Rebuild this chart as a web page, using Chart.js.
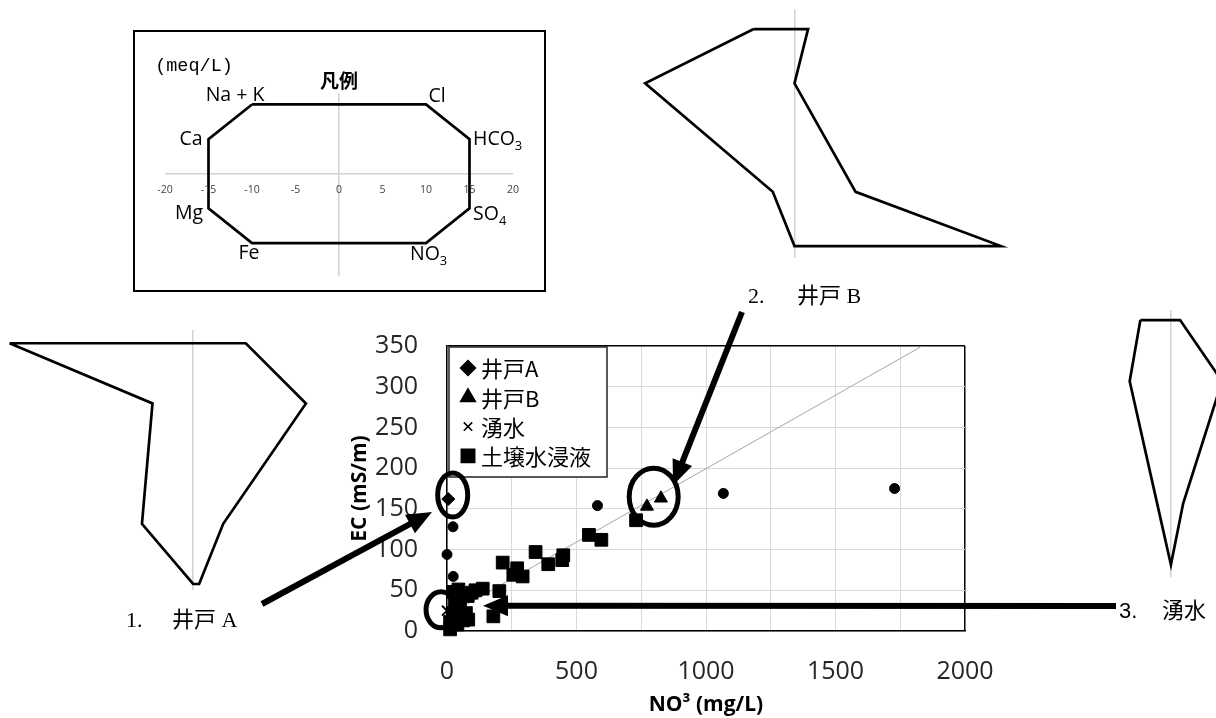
<!DOCTYPE html>
<html>
<head>
<meta charset="utf-8">
<script src="https://cdn.jsdelivr.net/npm/chart.js@4.4.1/dist/chart.umd.min.js"></script>
<style>
html,body{margin:0;padding:0;background:#fff;width:1216px;height:718px;overflow:hidden;position:relative;}
canvas{position:absolute;}
.t{position:absolute;white-space:nowrap;line-height:1;color:#000;}
.c{transform:translate(-50%,-50%);}
.l{transform:translate(0,-50%);}
.ion{font-family:"Open Sans",sans-serif;font-size:19.5px;}
.ion sub{font-size:13px;vertical-align:-5px;line-height:0;}
.lab{font-family:"Liberation Serif","Noto Sans CJK JP",serif;font-size:22px;}
.lab2{font-family:"Liberation Sans","Noto Sans CJK JP",sans-serif;font-size:22px;}
#legendBox{position:absolute;left:133px;top:30px;width:409px;height:258px;border:2px solid #000;background:#fff;}
</style>
</head>
<body>
<div id="legendBox"></div>
<canvas id="main" width="1216" height="718" style="left:0;top:0"></canvas>
<canvas id="stiffLegend"></canvas>
<canvas id="stiffA"></canvas>
<canvas id="stiffB"></canvas>
<canvas id="stiffSpring"></canvas>

<div class="t c" style="left:194px;top:67px;font-family:'Liberation Mono',monospace;font-size:18.5px;">(meq/L)</div>
<div class="t c" style="left:339px;top:79px;font-family:'Noto Sans CJK JP',sans-serif;font-size:19px;font-weight:bold;">凡例</div>
<div class="t c ion" style="left:235px;top:94px;">Na + K</div>
<div class="t c ion" style="left:437px;top:95px;">Cl</div>
<div class="t c ion" style="left:191px;top:138px;">Ca</div>
<div class="t l ion" style="left:473px;top:138px;">HCO<sub>3</sub></div>
<div class="t c ion" style="left:189px;top:212px;">Mg</div>
<div class="t l ion" style="left:473px;top:213px;">SO<sub>4</sub></div>
<div class="t c ion" style="left:249px;top:252px;">Fe</div>
<div class="t l ion" style="left:410px;top:253px;">NO<sub>3</sub></div>

<div class="t l lab" style="left:126px;top:620px;">1.</div>
<div class="t l lab" style="left:172px;top:620px;">井戸 A</div>
<div class="t l lab" style="left:748px;top:296px;">2.</div>
<div class="t l lab" style="left:797px;top:296px;">井戸 B</div>
<div class="t l lab2" style="left:1119px;top:611px;">3.</div>
<div class="t l lab2" style="left:1162px;top:611px;">湧水</div>

<script>
// ---------------- Scatter data: NO3 (mg/L) vs EC (mS/m) ----------------
const wellA_NO3 = [5];
const wellA_EC  = [162];
const wellB_NO3 = [772, 826];
const wellB_EC  = [153, 163];
const spring_NO3 = [0];
const spring_EC  = [25];
const soil_NO3 = [730, 548, 596, 342, 449, 445, 391, 215, 271, 256, 292, 202, 179, 138, 95, 44, 82, 24, 31, 50, 24, 12, 63, 12, 73, 80, 110, 40];
const soil_EC  = [136, 118, 112, 97, 93, 87, 82, 84, 77, 69, 67, 49, 18, 52, 47, 51, 14, 48, 38, 30, 22, 11, 13, 2, 22, 43, 50, 8];
const other_NO3 = [23, 0, 24, 581, 1067, 1728];
const other_EC  = [128, 94, 67, 154, 169, 175];
const trend_NO3 = [0, 1835];
const trend_EC  = [19, 350];

const xTicksMax = 2000, yTicksMax = 350;

// ---------------- Stiff (hexa) diagram data, meq/L ----------------
// rows: Na+K / Cl, Ca / HCO3, Mg / SO4, Fe / NO3
const stiffRows = [2, 1, -1, -2];
const legendCations = [10, 15, 15, 10];
const legendAnions  = [10, 15, 15, 10];
const wellACations  = [12.2, 2.7, 3.4, 0];
const wellAAnions   = [3.5, 7.5, 2.0, 0.4];
const wellBCations  = [3.0, 11.0, 1.6, 0];
const wellBAnions   = [1.0, 0, 4.5, 15.2];
const springCations = [2.0, 2.7, 0.9, 0];
const springAnions  = [0.6, 3.35, 0.8, 0];
const legendTicks = [-20, -15, -10, -5, 0, 5, 10, 15, 20];

// ---------------- helpers ----------------
const zip = (xs, ys) => xs.map((x, i) => ({x: x, y: ys[i]}));

function polygon(cat, an) {
  const pts = [{x: -cat[0], y: stiffRows[0]}];
  for (let i = 0; i < 4; i++) pts.push({x: an[i], y: stiffRows[i]});
  for (let i = 3; i >= 0; i--) pts.push({x: -cat[i], y: stiffRows[i]});
  return pts;
}

function fallbackDrawPoint(ctx, o, x, y) {
  const r = o.radius;
  ctx.beginPath();
  if (o.pointStyle === 'rectRot') { ctx.moveTo(x, y - r); ctx.lineTo(x + r, y); ctx.lineTo(x, y + r); ctx.lineTo(x - r, y); ctx.closePath(); }
  else if (o.pointStyle === 'triangle') { ctx.moveTo(x, y - r); ctx.lineTo(x + r * 0.866, y + r / 2); ctx.lineTo(x - r * 0.866, y + r / 2); ctx.closePath(); }
  else if (o.pointStyle === 'rect') { const s = r * Math.SQRT1_2; ctx.rect(x - s, y - s, 2 * s, 2 * s); }
  else if (o.pointStyle === 'crossRot') { const s = r * Math.SQRT1_2; ctx.moveTo(x - s, y - s); ctx.lineTo(x + s, y + s); ctx.moveTo(x + s, y - s); ctx.lineTo(x - s, y + s); }
  else { ctx.arc(x, y, r, 0, Math.PI * 2); }
  if (o.pointStyle !== 'crossRot') ctx.fill();
  ctx.stroke();
}
const drawPoint = (Chart.helpers && Chart.helpers.drawPoint) ? Chart.helpers.drawPoint : fallbackDrawPoint;

// ---------------- Main scatter chart ----------------
const black = {backgroundColor: '#000', borderColor: '#000', borderWidth: 1, clip: false};

const ellipses = [
  {x: 22, y: 167, rx: 15, ry: 22},
  {x: 798, y: 165, rx: 24.5, ry: 28.5},
  {x: -23, y: 26, rx: 15, ry: 18}
];
const arrows = [
  {tailX: 262, tailY: 604, tipX: -58, tipY: 146},
  {tailX: 742, tailY: 312, tipX: 873, tipY: 179},
  {tailX: 1116, tailY: 606, tipX: 139, tipY: 31}
];

function drawArrow(ctx, x1, y1, x2, y2) {
  const dx = x2 - x1, dy = y2 - y1, len = Math.hypot(dx, dy);
  const ux = dx / len, uy = dy / len, px = -uy, py = ux;
  const hl = 25, hw = 10.5;
  ctx.lineWidth = 6; ctx.lineCap = 'butt';
  ctx.beginPath(); ctx.moveTo(x1, y1); ctx.lineTo(x2 - ux * hl * 0.8, y2 - uy * hl * 0.8); ctx.stroke();
  ctx.beginPath();
  ctx.moveTo(x2, y2);
  ctx.lineTo(x2 - ux * hl + px * hw, y2 - uy * hl + py * hw);
  ctx.lineTo(x2 - ux * hl - px * hw, y2 - uy * hl - py * hw);
  ctx.closePath(); ctx.fill();
}

const boxLegendPlugin = {
  id: 'boxLegend',
  afterDatasetsDraw(chart) {
    const {ctx, chartArea: a} = chart;
    const x0 = a.left + 2, y0 = a.top + 1, w = 158, h = 130;
    ctx.save();
    ctx.fillStyle = '#fff'; ctx.fillRect(x0, y0, w, h);
    ctx.strokeStyle = '#222'; ctx.lineWidth = 1.5; ctx.strokeRect(x0, y0, w, h);
    const items = chart.data.datasets.filter(d => d.inLegend);
    items.forEach((d, i) => {
      const cy = y0 + 21 + i * 29.3;
      ctx.fillStyle = '#000'; ctx.strokeStyle = '#000';
      drawPoint(ctx, {pointStyle: d.pointStyle, radius: d.legendRadius, rotation: 0, borderWidth: d.pointStyle === 'crossRot' ? 2 : 1}, x0 + 19, cy);
      ctx.fillStyle = '#000';
      ctx.font = '22px "Noto Sans CJK JP", sans-serif';
      ctx.textBaseline = 'middle'; ctx.textAlign = 'left';
      ctx.fillText(d.label, x0 + 32, cy + 1);
    });
    ctx.restore();
  },
  afterDraw(chart) {
    const {ctx, scales: {x, y}} = chart;
    ctx.save();
    ctx.strokeStyle = '#000'; ctx.fillStyle = '#000';
    ellipses.forEach(e => {
      ctx.lineWidth = 5;
      ctx.beginPath();
      ctx.ellipse(x.getPixelForValue(e.x), y.getPixelForValue(e.y), e.rx, e.ry, 0, 0, Math.PI * 2);
      ctx.stroke();
    });
    arrows.forEach(a => drawArrow(ctx, a.tailX, a.tailY, x.getPixelForValue(a.tipX), y.getPixelForValue(a.tipY)));
    ctx.restore();
  }
};

new Chart(document.getElementById('main'), {
  type: 'scatter',
  data: {
    datasets: [
      Object.assign({label: '井戸A', data: zip(wellA_NO3, wellA_EC), pointStyle: 'rectRot', pointRadius: 6.5, legendRadius: 7.5, inLegend: true}, black),
      Object.assign({label: '井戸B', data: zip(wellB_NO3, wellB_EC), pointStyle: 'triangle', pointRadius: 7.5, legendRadius: 8.5, inLegend: true}, black),
      Object.assign({label: '湧水', data: zip(spring_NO3, spring_EC), pointStyle: 'crossRot', pointRadius: 7, legendRadius: 6, inLegend: true}, black, {borderWidth: 2}),
      Object.assign({label: '土壌水浸液', data: zip(soil_NO3, soil_EC), pointStyle: 'rect', pointRadius: 9, legendRadius: 9.5, inLegend: true}, black),
      Object.assign({label: 'その他', data: zip(other_NO3, other_EC), pointStyle: 'circle', pointRadius: 5, inLegend: false}, black),
      {label: '近似線', data: zip(trend_NO3, trend_EC), showLine: true, pointRadius: 0, borderColor: '#a6a6a6', borderWidth: 1, inLegend: false}
    ]
  },
  options: {
    responsive: false,
    animation: false,
    events: [],
    layout: {padding: {left: 347, right: 251, top: 346, bottom: 0}},
    plugins: {legend: {display: false}, tooltip: {enabled: false}},
    scales: {
      x: {
        type: 'linear', min: 0, max: xTicksMax,
        afterFit: s => { s.height = 87; },
        ticks: {stepSize: 250, autoSkip: false, maxRotation: 0, padding: 26, color: '#262626',
                font: {family: '"Open Sans", sans-serif', size: 25},
                callback: v => (v % 500 === 0 ? String(v) : '')},
        grid: {drawTicks: false,
               color: c => (c.tick && c.tick.value === xTicksMax ? '#000' : '#d9d9d9'),
               lineWidth: c => (c.tick && c.tick.value === xTicksMax ? 1.5 : 1)},
        border: {color: '#000', width: 1.5},
        title: {display: true, text: 'NO³ (mg/L)', color: '#000', padding: 0,
                font: {family: '"Open Sans", sans-serif', size: 21, weight: 'bold'}}
      },
      y: {
        type: 'linear', min: 0, max: yTicksMax,
        afterFit: s => { s.width = 100; },
        ticks: {stepSize: 50, padding: 29, color: '#262626',
                font: {family: '"Open Sans", sans-serif', size: 25}},
        grid: {drawTicks: false,
               color: c => (c.tick && c.tick.value === yTicksMax ? '#000' : '#d9d9d9'),
               lineWidth: c => (c.tick && c.tick.value === yTicksMax ? 1.5 : 1)},
        border: {color: '#000', width: 1.5},
        title: {display: true, text: 'EC (mS/m)', color: '#000', padding: 0,
                font: {family: '"Open Sans", sans-serif', size: 21, weight: 'bold'}}
      }
    }
  },
  plugins: [boxLegendPlugin]
});

// ---------------- Stiff diagrams ----------------
const legendTickPlugin = {
  id: 'legendTicks',
  afterDraw(chart) {
    if (!chart.options.plugins.legendTicks || !chart.options.plugins.legendTicks.show) return;
    const {ctx, scales: {x, y}} = chart;
    ctx.save();
    ctx.fillStyle = '#404040';
    ctx.font = '10.5px "Open Sans", sans-serif';
    ctx.textAlign = 'center'; ctx.textBaseline = 'middle';
    const yy = y.getPixelForValue(0) + 16.5;
    legendTicks.forEach(v => ctx.fillText(String(v), x.getPixelForValue(v), yy));
    ctx.restore();
  }
};

function stiffChart(id, g, cat, an) {
  const cv = document.getElementById(id);
  const left = Math.round(g.cx + g.xmin * g.ppx - g.pad);
  const top = Math.round(g.cy - g.ymax * g.ppy - g.pad);
  const w = Math.round((g.xmax - g.xmin) * g.ppx + 2 * g.pad);
  const h = Math.round((g.ymax - g.ymin) * g.ppy + 2 * g.pad);
  cv.width = w; cv.height = h;
  cv.style.left = left + 'px'; cv.style.top = top + 'px';
  cv.style.width = w + 'px'; cv.style.height = h + 'px';
  const only0 = s => { s.ticks = [{value: 0}]; };
  return new Chart(cv, {
    type: 'scatter',
    data: {datasets: [{data: polygon(cat, an), showLine: true, borderColor: '#000', backgroundColor: '#000',
                        borderWidth: 2.7, pointRadius: 0, fill: false, tension: 0, clip: false,
                        borderJoinStyle: 'miter'}]},
    options: {
      responsive: false, animation: false, events: [],
      layout: {padding: g.pad},
      plugins: {legend: {display: false}, tooltip: {enabled: false}, legendTicks: {show: !!g.ticks}},
      scales: {
        x: {type: 'linear', min: g.xmin, max: g.xmax, afterBuildTicks: only0,
            ticks: {display: false}, border: {display: false},
            grid: {drawTicks: false, color: '#d2d2d2', lineWidth: 1.5}},
        y: {type: 'linear', min: g.ymin, max: g.ymax, display: !!g.hLine, afterBuildTicks: only0,
            ticks: {display: false}, border: {display: false},
            grid: {drawTicks: false, color: '#d2d2d2', lineWidth: 1.5}}
      }
    },
    plugins: [legendTickPlugin]
  });
}

stiffChart('stiffLegend', {cx: 339.3, cy: 173.7, ppx: 8.7, ppy: 34.65, xmin: -20, xmax: 20, ymin: -2.95, ymax: 2.33, pad: 14, hLine: true, ticks: true}, legendCations, legendAnions);
stiffChart('stiffA', {cx: 193.3, cy: 463.5, ppx: 15.06, ppy: 60.2, xmin: -13.3, xmax: 8.5, ymin: -2.10, ymax: 2.22, pad: 4}, wellACations, wellAAnions);
stiffChart('stiffB', {cx: 794, cy: 137.5, ppx: 13.56, ppy: 54.2, xmin: -11.6, xmax: 15.8, ymin: -2.22, ymax: 2.37, pad: 4}, wellBCations, wellBAnions);
stiffChart('stiffSpring', {cx: 1170.7, cy: 442.3, ppx: 15.3, ppy: 61.1, xmin: -3.4, xmax: 4.0, ymin: -2.2, ymax: 2.165, pad: 4}, springCations, springAnions);
</script>
</body>
</html>
